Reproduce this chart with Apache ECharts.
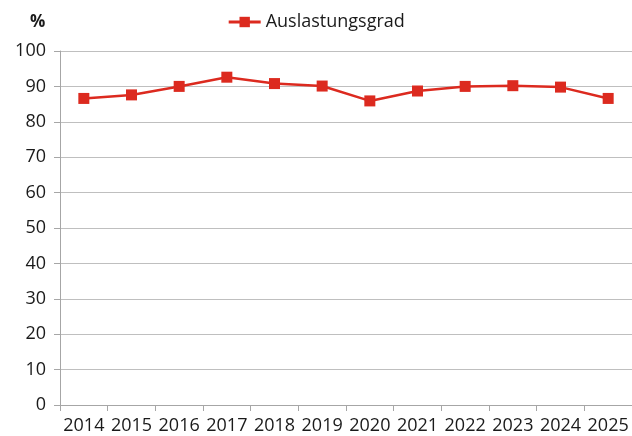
<!DOCTYPE html>
<html><head><meta charset="utf-8">
<script src="https://cdn.jsdelivr.net/npm/echarts@6/dist/echarts.min.js"></script>
<style>html,body{margin:0;padding:0;background:#fff}#c{width:632px;height:436px}</style>
</head><body><div id="c"></div>
<script>
const categories = ['2014','2015','2016','2017','2018','2019','2020','2021','2022','2023','2024','2025'];
const auslastungsgrad = [86.6, 87.6, 90.0, 92.6, 90.8, 90.1, 85.9, 88.7, 90.0, 90.2, 89.8, 86.6];
const seriesName = 'Auslastungsgrad';
const unitLabel = '%';
const FONT = 'Open Sans';
const chart = echarts.init(document.getElementById('c'), null, {renderer:'canvas'});
chart.setOption({
  animation:false,
  textStyle:{fontFamily:FONT},
  title:{text:unitLabel,left:25,top:9,textStyle:{fontFamily:FONT,fontSize:17,fontWeight:'bold',color:'#1a1a1a'}},
  legend:{top:8,left:'center',itemWidth:32,itemHeight:13,itemGap:5,
    textStyle:{fontFamily:FONT,fontSize:18,color:'#1a1a1a'},
    lineStyle:{width:3},
    data:[{name:seriesName}]},
  grid:{left:60,right:0,top:51,bottom:31,containLabel:false},
  xAxis:{type:'category',data:categories,boundaryGap:true,
    axisLine:{lineStyle:{color:'#a6a6a6',width:1}},
    axisTick:{show:true,length:6,lineStyle:{color:'#a6a6a6'}},
    axisLabel:{fontFamily:FONT,fontSize:18,color:'#1a1a1a',margin:12,interval:0}},
  yAxis:{type:'value',min:0,max:100,interval:10,
    axisLine:{show:true,lineStyle:{color:'#a6a6a6',width:1}},
    axisTick:{show:true,length:6,lineStyle:{color:'#a6a6a6'}},
    axisLabel:{fontFamily:FONT,fontSize:18,color:'#1a1a1a',margin:14},
    splitLine:{lineStyle:{color:'#bfbfbf',width:1}}},
  series:[{name:seriesName,type:'line',data:auslastungsgrad,
    symbol:'rect',symbolSize:11,
    itemStyle:{color:'#dc2a1f'},
    lineStyle:{color:'#dc2a1f',width:2.5}}]
});
</script></body></html>
